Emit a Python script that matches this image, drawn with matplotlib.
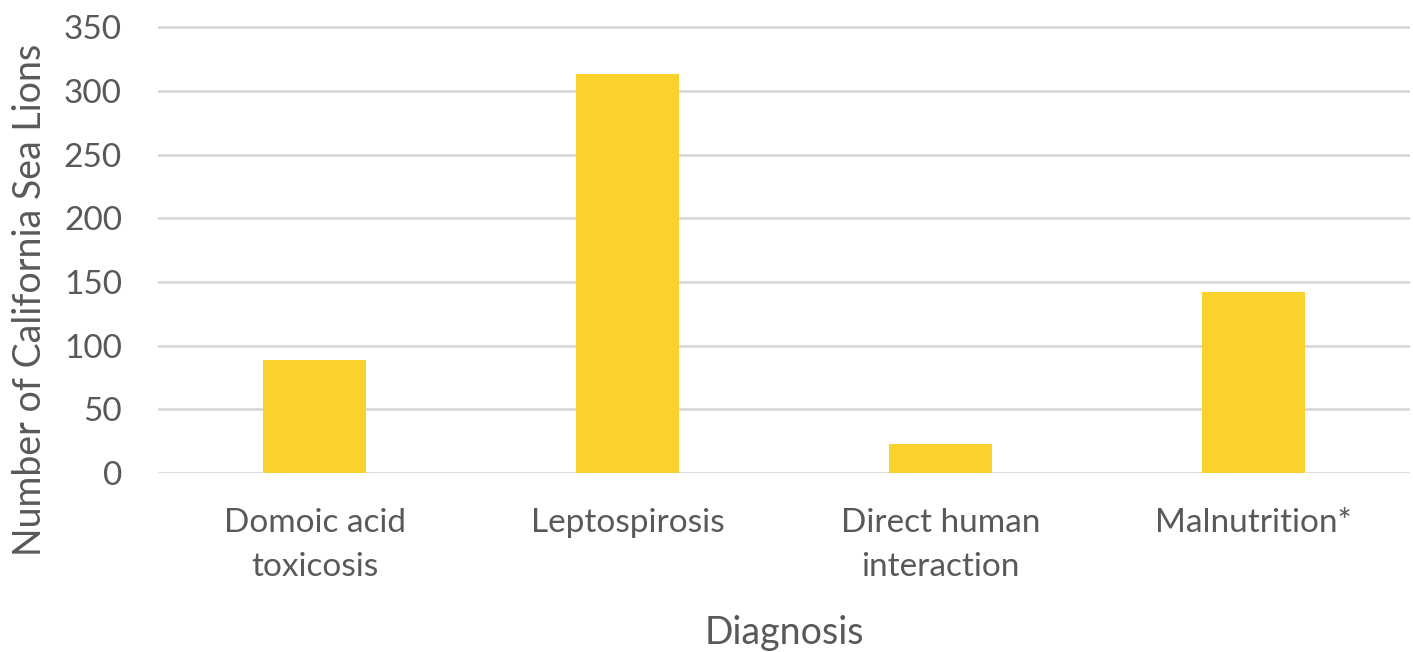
import matplotlib.pyplot as plt

categories = ["Domoic acid\ntoxicosis", "Leptospirosis", "Direct human\ninteraction", "Malnutrition*"]
counts = [89, 313, 23, 142]
yticks = [0, 50, 100, 150, 200, 250, 300, 350]

plt.rcParams['font.family'] = ['Lato', 'DejaVu Sans']
gray = '#595959'

fig = plt.figure(figsize=(14.13, 6.52), dpi=100)
ax = fig.add_axes([158 / 1413, 1 - 473 / 652, (1410 - 158) / 1413, (473 - 21) / 652])

x = range(len(categories))
ax.bar(x, counts, width=0.33, color='#F9D22B', zorder=3)

ax.set_xlim(-0.5, 3.5)
ax.set_ylim(0, 355)
ax.set_yticks(yticks)
ax.set_xticks(list(x))
ax.set_xticklabels(categories, fontsize=24, color=gray, linespacing=1.6)
ax.tick_params(axis='y', labelsize=24, labelcolor=gray, length=0, pad=26)
ax.tick_params(axis='x', length=0, pad=25)
ax.grid(axis='y', color='#d9d9d9', linewidth=2, zorder=0)
for s in ax.spines.values():
    s.set_visible(False)

ax.set_ylabel("Number of California Sea Lions", fontsize=27, color=gray)
ax.yaxis.set_label_coords(-0.088, 0.383)
ax.set_xlabel("Diagnosis", fontsize=27, color=gray)
ax.xaxis.set_label_coords(0.5, -0.315)

fig.savefig("out.png", dpi=100)
